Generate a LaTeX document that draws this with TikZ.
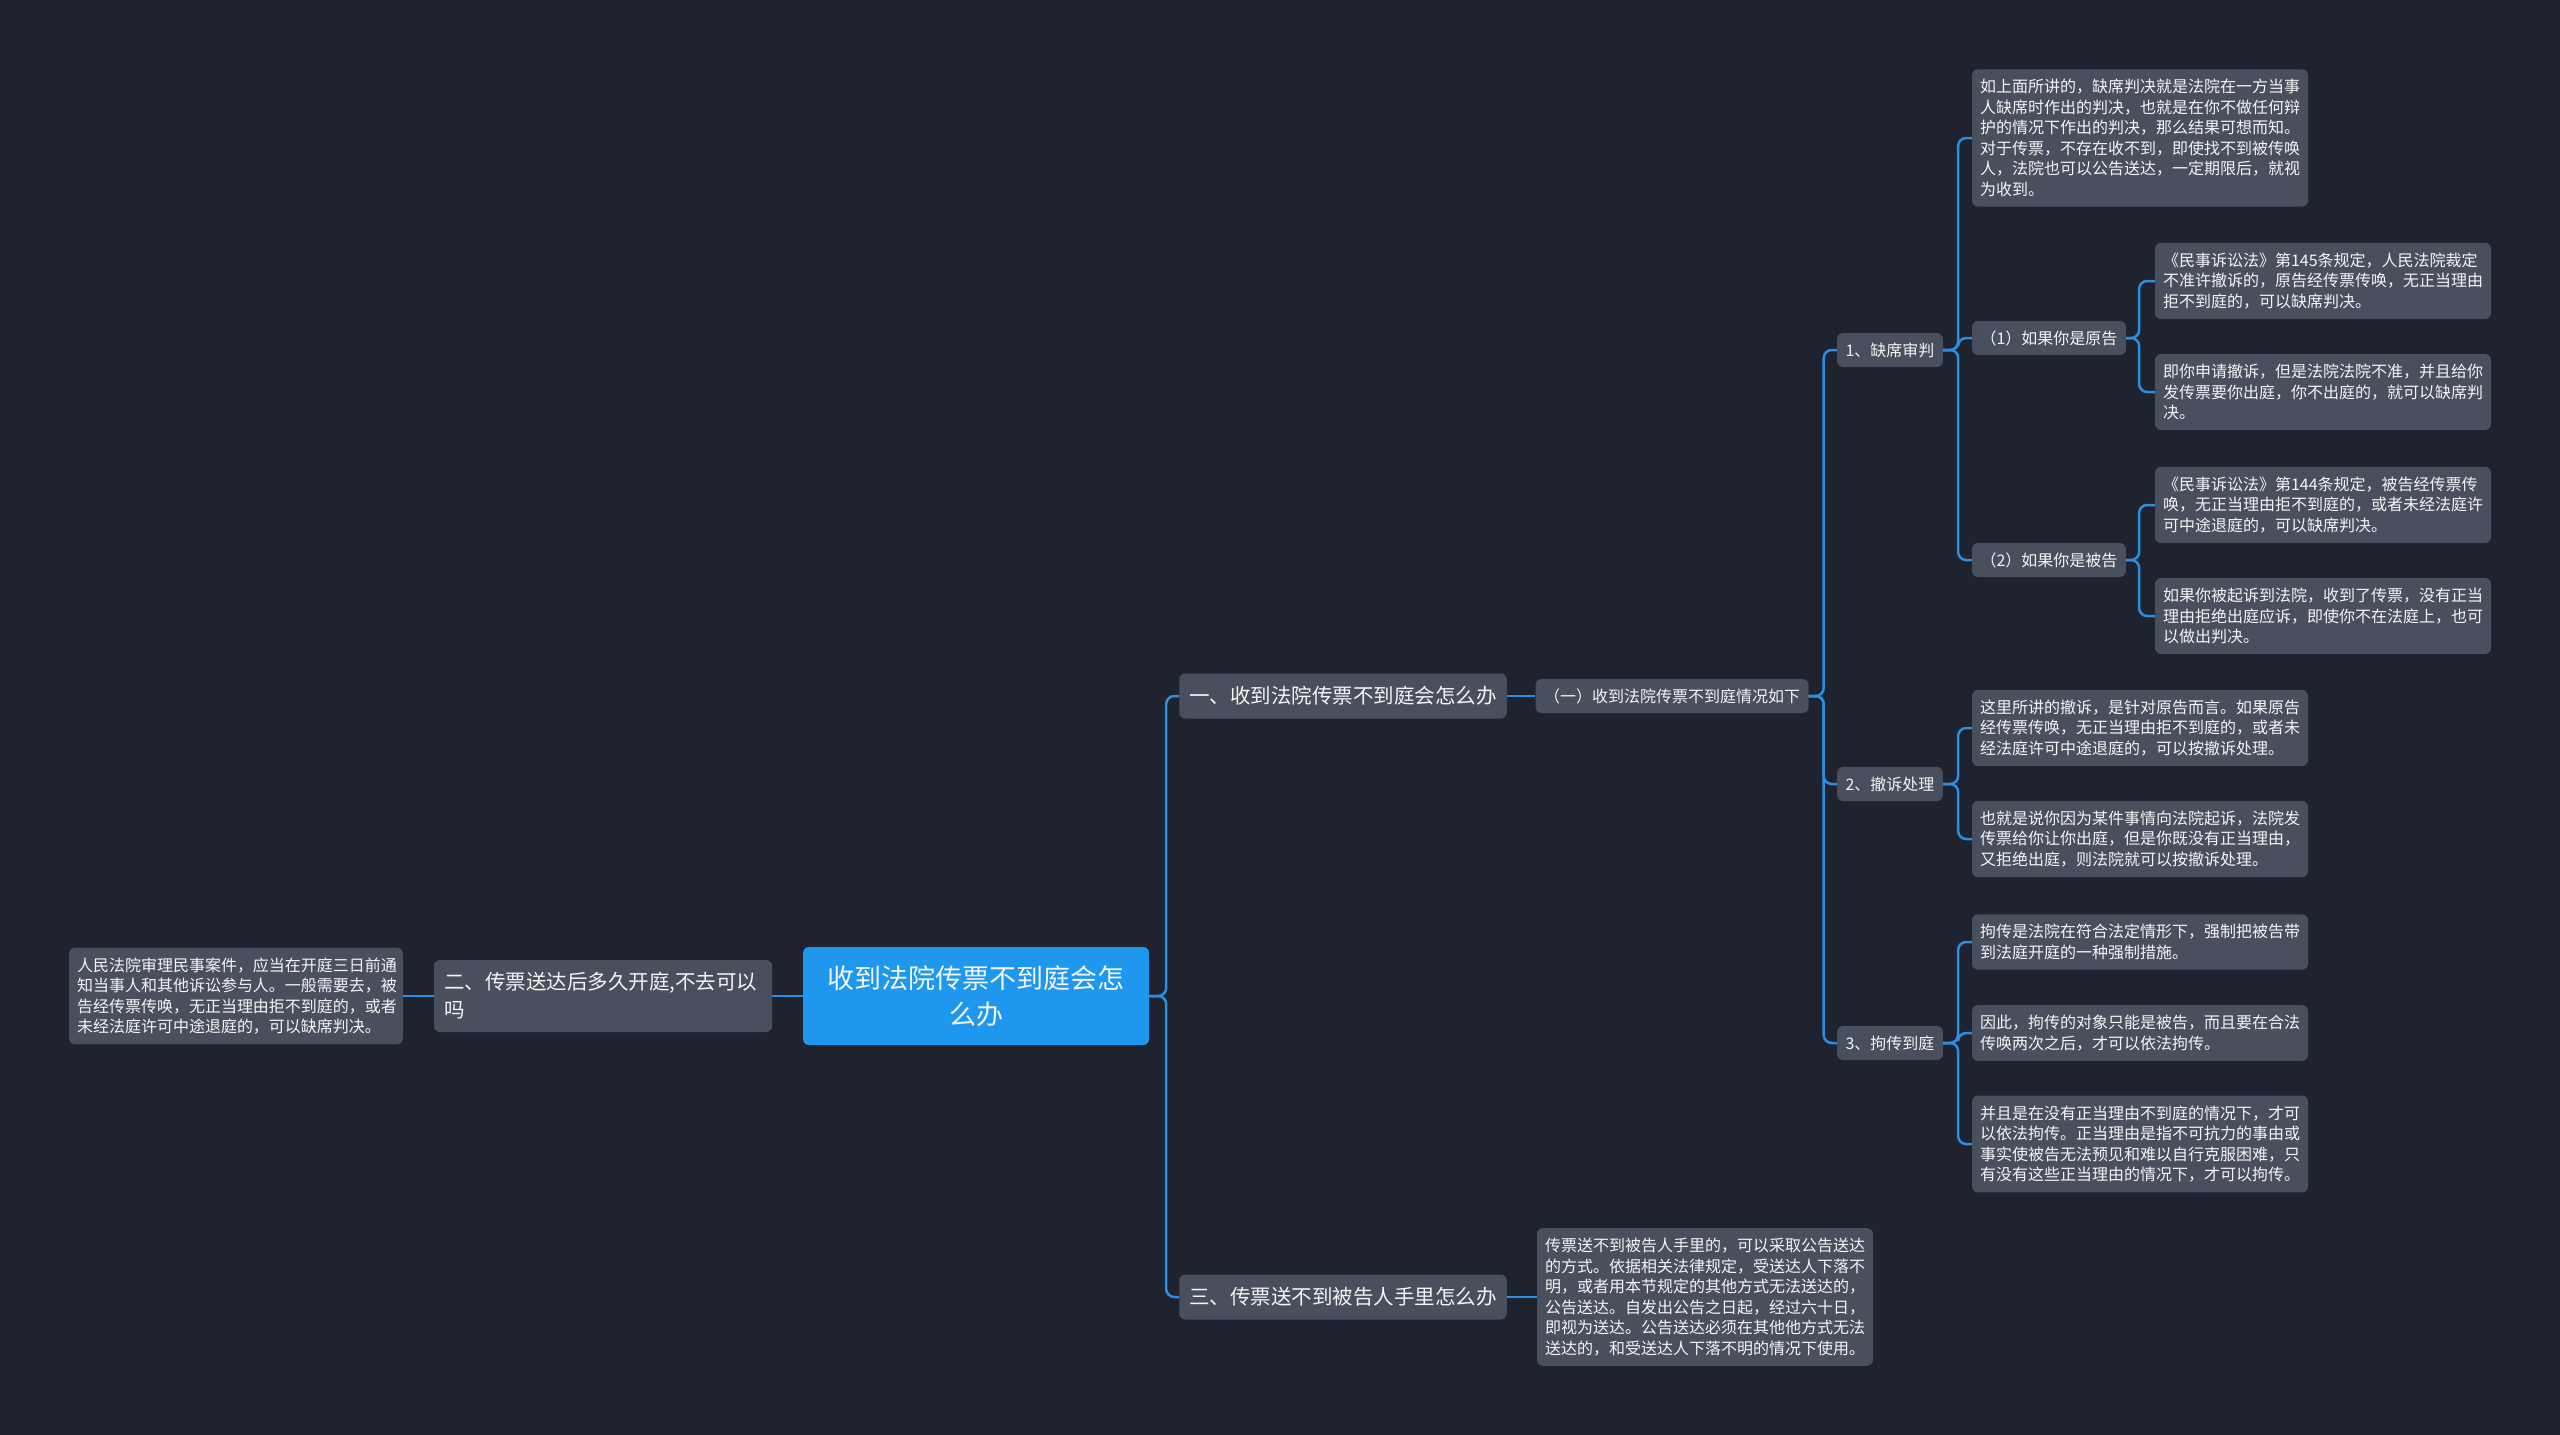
\documentclass[tikz,border=0pt]{standalone}
\usepackage{fontspec}
\setmainfont{Noto Sans CJK SC}
\usepackage{xcolor}
\usepackage{tikz}
\usetikzlibrary{positioning}
\definecolor{mybg}{HTML}{1F2330}
\definecolor{mybox}{HTML}{4A4F5E}
\definecolor{myblue}{HTML}{1E98EE}
\definecolor{myline}{HTML}{2A8FE0}
\definecolor{mytext}{HTML}{F3F4F6}

\begin{document}
\begin{tikzpicture}[x=1pt, y=-1pt,
                box/.style={rectangle, rounded corners=6pt, fill=mybox, text=mytext, inner xsep=8pt, inner ysep=10pt},
                topic/.style={box, fill=myblue, minimum width=346pt, minimum height=98pt, text width=310pt, align=center, font=\fontsize{27}{36}\selectfont},
                branch/.style={box, minimum height=45pt, inner xsep=10pt, font=\fontsize{20.5}{28}\selectfont},
                tag/.style={box, minimum height=34pt, inner xsep=8.5pt, inner ysep=6pt, font=\fontsize{16}{20.5}\selectfont},
                note/.style={box, text width=320pt, align=left, font=\fontsize{16}{20.5}\selectfont},
                link/.style={draw=myline, line width=2.5pt, rounded corners=8pt}]
                \fill[mybg] (0,0) rectangle (2560,1435);
                \node[topic] (root) at (976,996) {收到法院传票不到庭会怎\\么办};
                % left side
                \node[branch, text width=318pt, align=left, minimum height=72pt] (b2) at (603,996) {二、传票送达后多久开庭,不去可以\\吗};
                \node[note, text width=318pt] (n2) at (236,996) {人民法院审理民事案件，应当在开庭三日前通\\知当事人和其他诉讼参与人。一般需要去，被\\告经传票传唤，无正当理由拒不到庭的，或者\\未经法庭许可中途退庭的，可以缺席判决。};
                % right side
                \node[branch] (b1) at (1343,696) {一、收到法院传票不到庭会怎么办};
                \node[branch] (b3) at (1343,1297) {三、传票送不到被告人手里怎么办};
                \node[note] (n3) at (1705,1297) {传票送不到被告人手里的，可以采取公告送达\\的方式。依据相关法律规定，受送达人下落不\\明，或者用本节规定的其他方式无法送达的，\\公告送达。自发出公告之日起，经过六十日，\\即视为送达。公告送达必须在其他他方式无法\\送达的，和受送达人下落不明的情况下使用。};
                \node[tag] (s1) at (1672,696) {（一）收到法院传票不到庭情况如下};
                \node[tag] (c1) at (1890,350) {1、缺席审判};
                \node[tag] (c2) at (1890,784) {2、撤诉处理};
                \node[tag] (c3) at (1890,1043) {3、拘传到庭};
                \node[note] (d0) at (2140,138) {如上面所讲的，缺席判决就是法院在一方当事\\人缺席时作出的判决，也就是在你不做任何辩\\护的情况下作出的判决，那么结果可想而知。\\对于传票，不存在收不到，即使找不到被传唤\\人，法院也可以公告送达，一定期限后，就视\\为收到。};
                \node[tag] (d1) at (2049,338) {（1）如果你是原告};
                \node[tag] (d2) at (2049,560) {（2）如果你是被告};
                \node[note] (e1) at (2323,281) {《民事诉讼法》第145条规定，人民法院裁定\\不准许撤诉的，原告经传票传唤，无正当理由\\拒不到庭的，可以缺席判决。};
                \node[note] (e2) at (2323,392) {即你申请撤诉，但是法院法院不准，并且给你\\发传票要你出庭，你不出庭的，就可以缺席判\\决。};
                \node[note] (e3) at (2323,505) {《民事诉讼法》第144条规定，被告经传票传\\唤，无正当理由拒不到庭的，或者未经法庭许\\可中途退庭的，可以缺席判决。};
                \node[note] (e4) at (2323,616) {如果你被起诉到法院，收到了传票，没有正当\\理由拒绝出庭应诉，即使你不在法庭上，也可\\以做出判决。};
                \node[note] (f1) at (2140,728) {这里所讲的撤诉，是针对原告而言。如果原告\\经传票传唤，无正当理由拒不到庭的，或者未\\经法庭许可中途退庭的，可以按撤诉处理。};
                \node[note] (f2) at (2140,839) {也就是说你因为某件事情向法院起诉，法院发\\传票给你让你出庭，但是你既没有正当理由，\\又拒绝出庭，则法院就可以按撤诉处理。};
                \node[note] (g1) at (2140,942) {拘传是法院在符合法定情形下，强制把被告带\\到法庭开庭的一种强制措施。};
                \node[note] (g2) at (2140,1033) {因此，拘传的对象只能是被告，而且要在合法\\传唤两次之后，才可以依法拘传。};
                \node[note] (g3) at (2140,1144) {并且是在没有正当理由不到庭的情况下，才可\\以依法拘传。正当理由是指不可抗力的事由或\\事实使被告无法预见和难以自行克服困难，只\\有没有这些正当理由的情况下，才可以拘传。};

                \draw[link] (root.west) -- (b2.east);
                \draw[link] (b2.west) -- (n2.east);
                \draw[link] (root.east) -- ++(17,0) |- (b1.west);
                \draw[link] (root.east) -- ++(17,0) |- (b3.west);
                \draw[link] (b1.east) -- (s1.west);
                \draw[link] (b3.east) -- (n3.west);
                \foreach \c in {c1,c2,c3}
                    \draw[link] (s1.east) -- ++(15,0) |- (\c.west);
                \foreach \d in {d0,d1,d2}
                    \draw[link] (c1.east) -- ++(15,0) |- (\d.west);
                \foreach \e in {e1,e2}
                    \draw[link] (d1.east) -- ++(13,0) |- (\e.west);
                \foreach \e in {e3,e4}
                    \draw[link] (d2.east) -- ++(13,0) |- (\e.west);
                \foreach \f in {f1,f2}
                    \draw[link] (c2.east) -- ++(15,0) |- (\f.west);
                \foreach \g in {g1,g2,g3}
                    \draw[link] (c3.east) -- ++(15,0) |- (\g.west);
            \end{tikzpicture}
\end{document}
